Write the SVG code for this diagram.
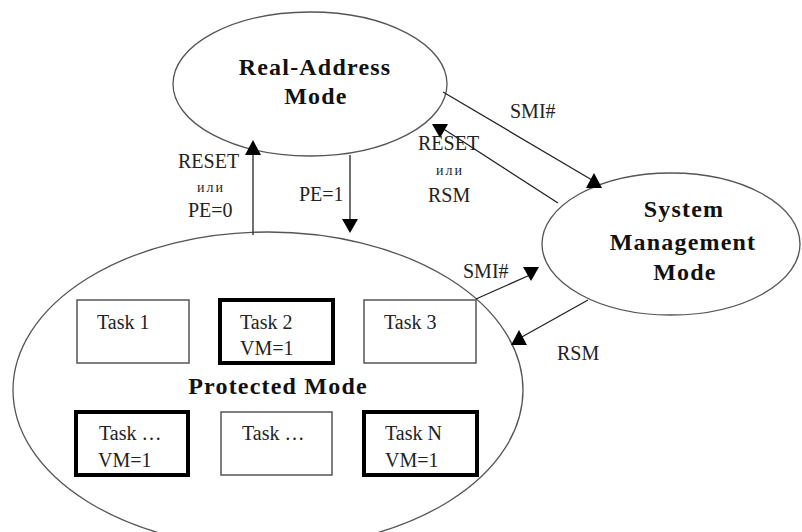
<svg xmlns="http://www.w3.org/2000/svg" width="802" height="532" viewBox="0 0 802 532">
<style>
.mode{fill:#fff;stroke:#555;stroke-width:1.3}
.title{font-family:"Liberation Serif","Times New Roman",serif;font-weight:bold;font-size:24px;letter-spacing:1.2px;fill:#111;text-anchor:middle}
.lbl{font-family:"Liberation Serif","Times New Roman",serif;font-size:20px;fill:#222}
.small{font-family:"Liberation Serif","Times New Roman",serif;font-size:14px;letter-spacing:2px;fill:#222}
.task{fill:#fff;stroke:#555;stroke-width:1.5}
.vm{fill:#fff;stroke:#000;stroke-width:4}
.conn line{stroke:#222;stroke-width:1.3}
.head{fill:#000}
</style>
<defs>
<path id="tri-up" d="M0,0 L8,15 L-8,15 Z"/>
<path id="tri-down" d="M0,0 L-8,-14 L8,-14 Z"/>
</defs>
<rect width="802" height="532" fill="#fff"/>
<g id="protected-mode">
<ellipse class="mode" cx="268" cy="390" rx="255" ry="158"/>
<text class="title" x="278" y="394">Protected Mode</text>
</g>
<g id="task-1"><rect class="task" x="77" y="300" width="112" height="63"/><text class="lbl" x="97" y="329">Task 1</text></g>
<g id="task-2"><rect class="vm" x="220" y="300" width="113" height="63"/><text class="lbl" x="240" y="329">Task 2</text><text class="lbl" x="240" y="355">VM=1</text></g>
<g id="task-3"><rect class="task" x="364" y="300" width="112" height="63"/><text class="lbl" x="384" y="329">Task 3</text></g>
<g id="task-a"><rect class="vm" x="76" y="412" width="112" height="63"/><text class="lbl" x="99" y="440">Task …</text><text class="lbl" x="98" y="467">VM=1</text></g>
<g id="task-b"><rect class="task" x="221" y="412" width="111" height="63"/><text class="lbl" x="242" y="440">Task …</text></g>
<g id="task-n"><rect class="vm" x="364" y="412" width="113" height="63"/><text class="lbl" x="385" y="440">Task N</text><text class="lbl" x="385" y="467">VM=1</text></g>
<g id="real-address-mode">
<ellipse class="mode" cx="310" cy="84" rx="137" ry="72"/>
<text class="title" x="315" y="75">Real-Address</text>
<text class="title" x="316" y="104">Mode</text>
</g>
<g id="system-management-mode">
<ellipse class="mode" cx="671" cy="244" rx="129" ry="71"/>
<text class="title" x="684" y="217">System</text>
<text class="title" x="683" y="250">Management</text>
<text class="title" x="685" y="280">Mode</text>
</g>
<g id="connectors" class="conn">
<line x1="253" y1="235" x2="253" y2="150"/>
<use href="#tri-up" class="head" x="253" y="140"/>
<line x1="350" y1="155" x2="350" y2="222"/>
<use href="#tri-down" class="head" x="350" y="233"/>
<line x1="443" y1="92" x2="592" y2="180"/>
<use href="#tri-up" class="head" x="594" y="173"/>
<line x1="558" y1="203" x2="442" y2="128"/>
<use href="#tri-down" class="head" x="440" y="138"/>
<line x1="476" y1="299" x2="530" y2="275"/>
<use href="#tri-down" class="head" x="531" y="281"/>
<line x1="588" y1="300" x2="520" y2="338"/>
<use href="#tri-up" class="head" x="519" y="330"/>
<text class="lbl" x="178" y="168">RESET</text>
<text class="small" x="197" y="192">или</text>
<text class="lbl" x="188" y="217">PE=0</text>
<text class="lbl" x="299" y="201">PE=1</text>
<text class="lbl" x="510" y="118">SMI#</text>
<text class="lbl" x="418" y="150">RESET</text>
<text class="small" x="436" y="175">или</text>
<text class="lbl" x="428" y="202">RSM</text>
<text class="lbl" x="463" y="278">SMI#</text>
<text class="lbl" x="557" y="360">RSM</text>
</g>
</svg>
